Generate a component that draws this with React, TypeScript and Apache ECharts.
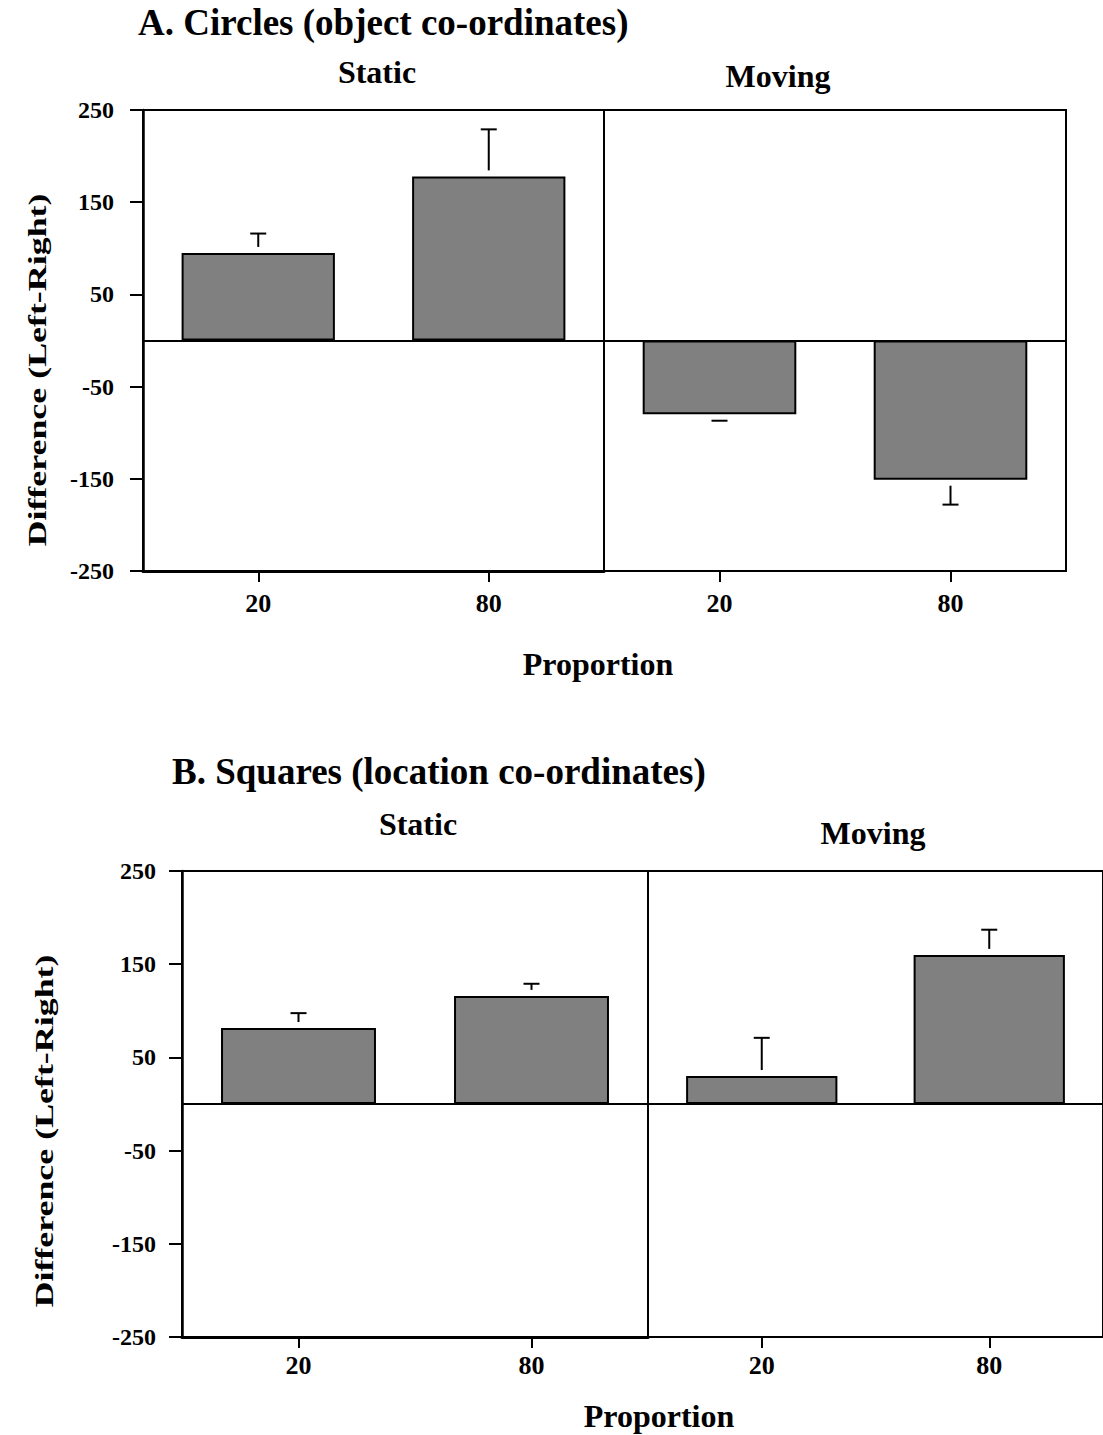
import React, { useEffect, useRef } from 'react';
import * as echarts from 'echarts';

const categories = ['20', '80'];
const yTicks = [-250, -150, -50, 50, 150, 250];

const circlesStatic = [95, 178];
const circlesStaticErr = [21, 51];
const circlesMoving = [-80, -151];
const circlesMovingErr = [7, 27];

const squaresStatic = [81.5, 116];
const squaresStaticErr = [16, 13];
const squaresMoving = [30, 160];
const squaresMovingErr = [41, 27];

const titleA = 'A. Circles (object co-ordinates)';
const titleB = 'B. Squares (location co-ordinates)';
const conditionLabels = ['Static', 'Moving'];
const xName = 'Proportion';
const yName = 'Difference (Left-Right)';

const FONT = 'Liberation Serif, Times New Roman, serif';

const panels = [
  { grid: { left: 143, top: 110, width: 461, height: 461 }, values: circlesStatic, errs: circlesStaticErr, left: true, xMargin: 19, yMargin: 29, xLine: 3 },
  { grid: { left: 604, top: 110, width: 462, height: 461 }, values: circlesMoving, errs: circlesMovingErr, left: false, xMargin: 19, yMargin: 29, xLine: 2 },
  { grid: { left: 182, top: 871, width: 466, height: 466 }, values: squaresStatic, errs: squaresStaticErr, left: true, xMargin: 15, yMargin: 26, xLine: 3 },
  { grid: { left: 648, top: 871, width: 467, height: 466 }, values: squaresMoving, errs: squaresMovingErr, left: false, xMargin: 15, yMargin: 26, xLine: 2 },
];

function text(t: string, x: number, y: number, size: number, align = 'center', extra: any = {}) {
  return {
    type: 'text',
    x,
    y,
    silent: true,
    ...extra,
    style: {
      text: t,
      fontSize: size,
      fontWeight: 'bold',
      fontFamily: FONT,
      fill: '#000',
      align,
      verticalAlign: 'middle',
      textAlign: align,
      textVerticalAlign: 'middle',
    },
  };
}

export default function App() {
  const ref = useRef<HTMLDivElement>(null);

  useEffect(() => {
    if (!ref.current) return;
    const chart = echarts.init(ref.current, null, { renderer: 'svg' });

    const grid = panels.map((p) => ({ ...p.grid, show: true, borderColor: '#000', borderWidth: 2, backgroundColor: 'transparent' }));

    const xAxis = panels.map((p, i) => ({
      type: 'category',
      gridIndex: i,
      data: categories,
      position: 'bottom',
      axisLine: { show: true, onZero: false, lineStyle: { color: '#000', width: p.xLine } },
      axisTick: { show: true, alignWithLabel: true, length: 11, lineStyle: { color: '#000', width: 2 } },
      axisLabel: { show: true, color: '#000', fontSize: 26, fontWeight: 'bold', fontFamily: FONT, margin: p.xMargin },
      splitLine: { show: false },
    }));

    const yAxis = panels.map((p, i) => ({
      type: 'value',
      gridIndex: i,
      min: -250,
      max: 250,
      show: p.left,
      axisLine: { show: true, onZero: false, lineStyle: { color: '#000', width: 2.5 } },
      axisTick: { show: true, length: 13, customValues: yTicks, lineStyle: { color: '#000', width: 2 } },
      axisLabel: { show: true, customValues: yTicks, color: '#000', fontSize: 24, fontWeight: 'bold', fontFamily: FONT, margin: p.yMargin },
      splitLine: { show: false },
    }));

    const series: any[] = [];
    panels.forEach((p, i) => {
      series.push({
        type: 'bar',
        xAxisIndex: i,
        yAxisIndex: i,
        data: p.values,
        barWidth: '66.5%',
        itemStyle: { color: '#808080', borderColor: '#000', borderWidth: 2 },
        markLine: {
          silent: true,
          symbol: ['none', 'none'],
          label: { show: false },
          lineStyle: { color: '#000', width: 2, type: 'solid' },
          data: [{ yAxis: 0 }],
        },
        z: 2,
      });
      series.push({
        type: 'custom',
        xAxisIndex: i,
        yAxisIndex: i,
        data: p.values.map((v, k) => [k, v, p.errs[k]]),
        z: 3,
        silent: true,
        renderItem: (params: any, api: any) => {
          const idx = api.value(0);
          const v = api.value(1);
          const e = api.value(2);
          const sign = v >= 0 ? 1 : -1;
          const base = api.coord([idx, v]);
          const end = api.coord([idx, v + sign * e]);
          const startY = base[1] - sign * 6;
          const x = base[0];
          const children: any[] = [];
          if ((sign > 0 && end[1] < startY) || (sign < 0 && end[1] > startY)) {
            children.push({ type: 'line', shape: { x1: x, y1: startY, x2: x, y2: end[1] }, style: { stroke: '#000', lineWidth: 2 } });
          } else {
            children.push({ type: 'line', shape: { x1: x, y1: end[1] - sign * 2, x2: x, y2: end[1] }, style: { stroke: '#000', lineWidth: 2 } });
          }
          children.push({ type: 'line', shape: { x1: x - 8, y1: end[1], x2: x + 8, y2: end[1] }, style: { stroke: '#000', lineWidth: 2 } });
          return { type: 'group', children };
        },
      });
    });

    const graphic = [
      text(titleA, 138, 22, 37, 'left'),
      text(conditionLabels[0], 377, 72, 32),
      text(conditionLabels[1], 778, 76, 32),
      text(xName, 598, 664, 32),
      text(yName, 37, 370, 26, 'center', { rotation: Math.PI / 2, scaleX: 1.38 }),
      text(titleB, 172, 771, 37, 'left'),
      text(conditionLabels[0], 418, 824, 32),
      text(conditionLabels[1], 873, 833, 32),
      text(xName, 659, 1416, 32),
      text(yName, 44, 1131, 26, 'center', { rotation: Math.PI / 2, scaleX: 1.38 }),
    ];

    chart.setOption({
      animation: false,
      backgroundColor: '#fff',
      grid,
      xAxis,
      yAxis,
      series,
      graphic,
    });

    return () => chart.dispose();
  }, []);

  return <div ref={ref} style={{ position: 'absolute', left: 0, top: 0, width: 1103, height: 1435 }} />;
}
